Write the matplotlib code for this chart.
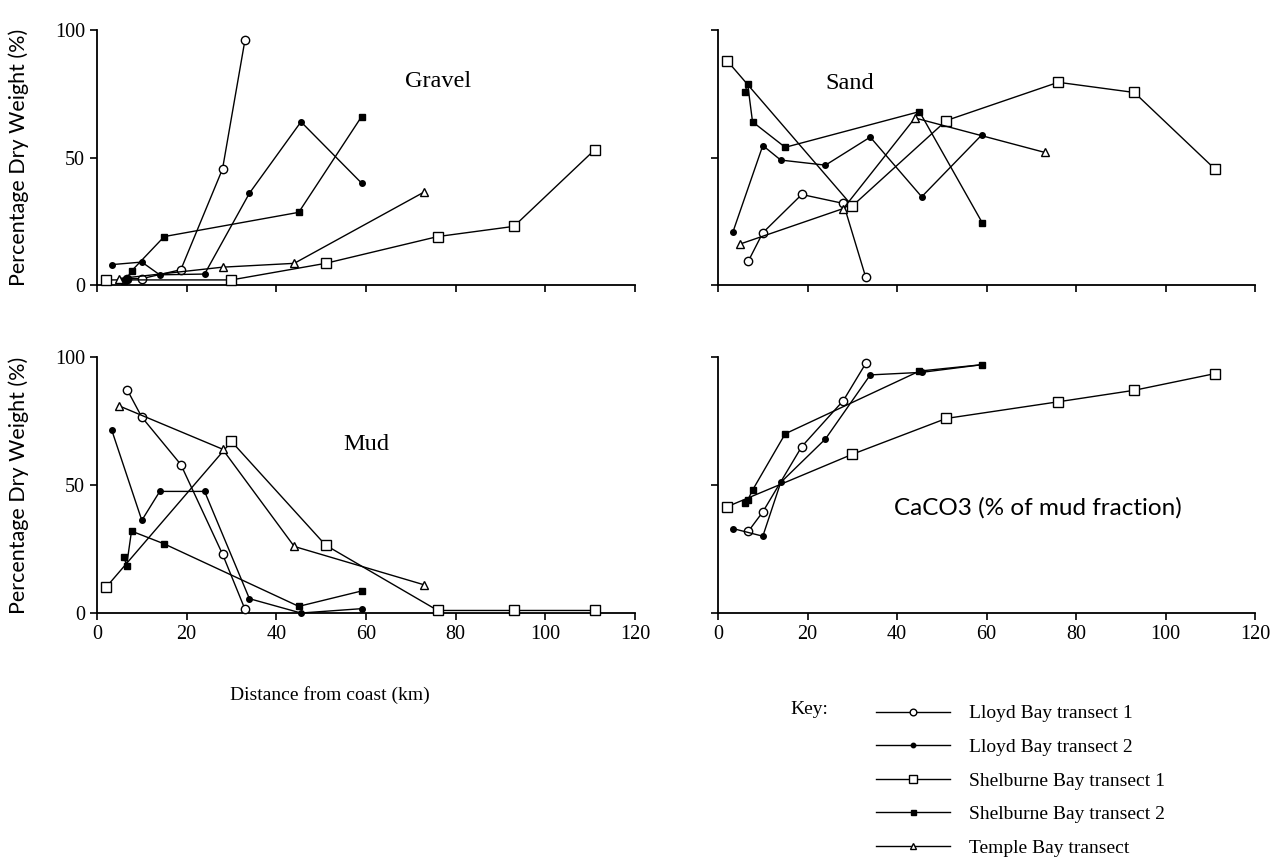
import numpy as np
import matplotlib
matplotlib.use("Agg")
import matplotlib.pyplot as plt
from matplotlib.lines import Line2D

SERIF = "Liberation Serif"
SANS = "Lato"

# distances from coast (km) for each transect
lb1_x = [6.8, 10, 18.7, 28, 33]
lb2_x = [3.3, 10, 14, 24, 34, 45.5, 59]
sb1_x = [2, 30, 51, 76, 93, 111]
sb2_x = [6, 6.6, 7.7, 15, 45, 59]
tb_x = [4.8, 28, 44, 73]

# gravel (% dry weight)
lb1_gravel = [2.5, 2.5, 6, 45.5, 96]
lb2_gravel = [8, 9, 4, 4.3, 36, 64, 40]
sb1_gravel = [2, 2, 8.5, 19, 23, 53]
sb2_gravel = [1.5, 2.5, 5.5, 19, 28.5, 66]
tb_gravel = [2.5, 7, 8.5, 36.5]

# sand
lb1_sand = [9.5, 20.5, 35.5, 32, 3]
lb2_sand = [20.7, 54.7, 49, 47, 58, 34.6, 59]
sb1_sand = [88, 31, 64.5, 79.5, 75.5, 45.5]
sb2_sand = [75.5, 79, 64, 54, 68, 24.5]
tb_sand = [16, 30, 65.5, 52]

# mud
lb1_mud = [87, 76.5, 58, 23, 1.5]
lb2_mud = [71.4, 36.2, 47.5, 47.5, 5.6, 0, 1.7]
sb1_mud = [10, 67, 26.5, 1, 1, 1]
sb2_mud = [22, 18.5, 32, 27, 2.6, 8.6]
tb_mud = [81, 64, 26, 11]

# CaCO3 (% of mud fraction), no Temple Bay data
lb1_caco3 = [32, 39.5, 65, 83, 97.5]
lb2_caco3 = [33, 30, 51, 68, 93, 94, 97]
sb1_caco3 = [41.5, 62, 76, 82.5, 87, 93.5]
sb2_caco3 = [43, 44, 48, 70, 94.5, 97]

series_names = ["Lloyd Bay transect 1", "Lloyd Bay transect 2",
                "Shelburne Bay transect 1", "Shelburne Bay transect 2",
                "Temple Bay transect"]

styles = [
    dict(marker="o", ms=6.0, mfc="white"),
    dict(marker="o", ms=4.0, mfc="black"),
    dict(marker="s", ms=6.5, mfc="white"),
    dict(marker="s", ms=4.5, mfc="black"),
    dict(marker="^", ms=5.5, mfc="white"),
]


def plot_panel(ax, xs, ys, label, lx, ly, font, fsize):
    for x, y, st in zip(xs, ys, styles):
        if y is None:
            continue
        ax.plot(x, y, color="black", lw=1.0, mec="black", mew=1.0,
                clip_on=False, zorder=3, **st)
    ax.set_xlim(0, 120)
    ax.set_ylim(0, 100)
    for s in ["top", "right"]:
        ax.spines[s].set_visible(False)
    for s in ["left", "bottom"]:
        ax.spines[s].set_linewidth(1.3)
    ax.set_xticks(np.arange(0, 121, 20))
    ax.set_yticks([0, 50, 100])
    ax.tick_params(direction="out", length=5, width=1.2)
    ax.text(lx, ly, label, fontsize=fsize, family=font, ha="center", va="center")


fig = plt.figure(figsize=(12.88, 8.65), dpi=100)
ax_g = fig.add_axes([0.0753, 0.6705, 0.4177, 0.2948])
ax_s = fig.add_axes([0.5575, 0.6705, 0.4170, 0.2948])
ax_m = fig.add_axes([0.0753, 0.2913, 0.4177, 0.2960])
ax_c = fig.add_axes([0.5575, 0.2913, 0.4170, 0.2960])

all_x = [lb1_x, lb2_x, sb1_x, sb2_x, tb_x]
plot_panel(ax_g, all_x, [lb1_gravel, lb2_gravel, sb1_gravel, sb2_gravel, tb_gravel],
           "Gravel", 76, 80, SERIF, 17.5)
plot_panel(ax_s, all_x, [lb1_sand, lb2_sand, sb1_sand, sb2_sand, tb_sand],
           "Sand", 29.5, 79, SERIF, 17.5)
plot_panel(ax_m, all_x, [lb1_mud, lb2_mud, sb1_mud, sb2_mud, tb_mud],
           "Mud", 60, 66, SERIF, 17.5)
plot_panel(ax_c, all_x, [lb1_caco3, lb2_caco3, sb1_caco3, sb2_caco3, None],
           "CaCO3 (% of mud fraction)", 71.5, 41, SANS, 17.5)

for ax in [ax_g, ax_s]:
    ax.set_xticklabels([])
for ax in [ax_s, ax_c]:
    ax.set_yticklabels([])
for ax in [ax_m, ax_c]:
    for t in ax.get_xticklabels():
        t.set_fontfamily(SERIF)
        t.set_fontsize(14.5)
for ax in [ax_g, ax_m]:
    for t in ax.get_yticklabels():
        t.set_fontfamily(SERIF)
        t.set_fontsize(14.5)
    ax.set_ylabel("Percentage Dry Weight (%)", family=SANS, fontsize=15.5, labelpad=19)

ax_m.set_xlabel("Distance from coast (km)", family=SERIF, fontsize=14)
ax_m.xaxis.set_label_coords(0.433, -0.285)

handles = [Line2D([], [], color="black", lw=1.0, mec="black", mew=1.0,
                  **dict(st, ms=st["ms"] * 0.8)) for st in styles]
fig.legend(handles, series_names, loc="upper left",
           bbox_to_anchor=(868 / 1288, 1 - 697 / 865), frameon=False,
           handlelength=3.8, handletextpad=1.0, labelspacing=0.82,
           prop={"family": SERIF, "size": 14}, borderaxespad=0)
fig.text(790 / 1288, 1 - 710 / 865, "Key:", family=SERIF, fontsize=14, va="center")

fig.savefig("out.png", dpi=100)
